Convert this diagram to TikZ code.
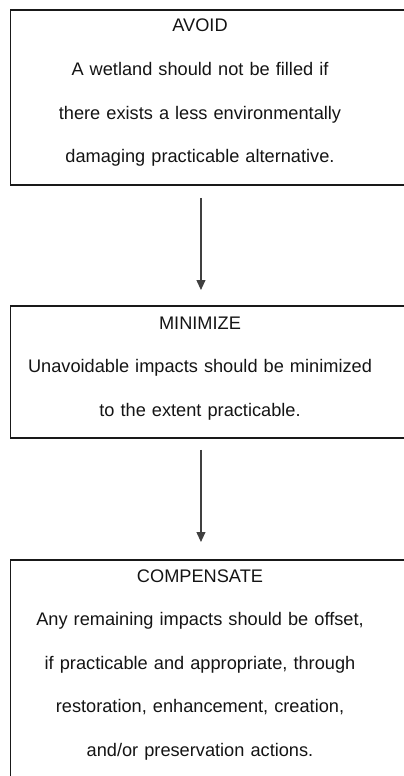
\documentclass[tikz,border=0pt]{standalone}
\usepackage{fontspec}
\setmainfont{Liberation Sans}
\usetikzlibrary{arrows.meta}

\tikzset{
  stagebox/.style={draw=black!90, line width=1.9pt, anchor=north west, minimum width=430pt, inner sep=0pt},
  stagetext/.style={anchor=base, text width=382pt, align=center, inner sep=0pt,
    font=\fontsize{18.2pt}{43.6pt}\selectfont, text=black!92},
  flow/.style={-{Triangle[length=10pt,width=9pt]}, line width=1.1pt, draw=black!75}
}

\begin{document}
\begin{tikzpicture}[x=1pt,y=-1pt]
  \useasboundingbox (0,0) rectangle (404,776);
  \clip (0,0) rectangle (404,776);

  % frames
  \node[stagebox, minimum height=175pt] (avoid) at (9.5,9) {};
  \node[stagebox, minimum height=132pt] (minimize) at (9.5,305) {};
  \node[stagebox, minimum height=240pt] (compensate) at (9.5,559) {};

  % texts
  \node[stagetext] (avoidtext) at (200,32) {AVOID\\
    A wetland should not be filled if\\
    there exists a less environmentally\\
    damaging practicable alternative.};
  \node[stagetext] (minimizetext) at (200,329) {MINIMIZE\\
    Unavoidable impacts should be minimized\\
    to the extent practicable.};
  \node[stagetext] (compensatetext) at (200,582) {COMPENSATE\\
    Any remaining impacts should be offset,\\
    if practicable and appropriate, through\\
    restoration, enhancement, creation,\\
    and/or preservation actions.};

  % arrows
  \draw[flow] ([xshift=-24.5pt,yshift=-12pt]avoid.south) -- ([xshift=-24.5pt,yshift=15pt]minimize.north);
  \draw[flow] ([xshift=-24.5pt,yshift=-11pt]minimize.south) -- ([xshift=-24.5pt,yshift=17pt]compensate.north);
\end{tikzpicture}
\end{document}
